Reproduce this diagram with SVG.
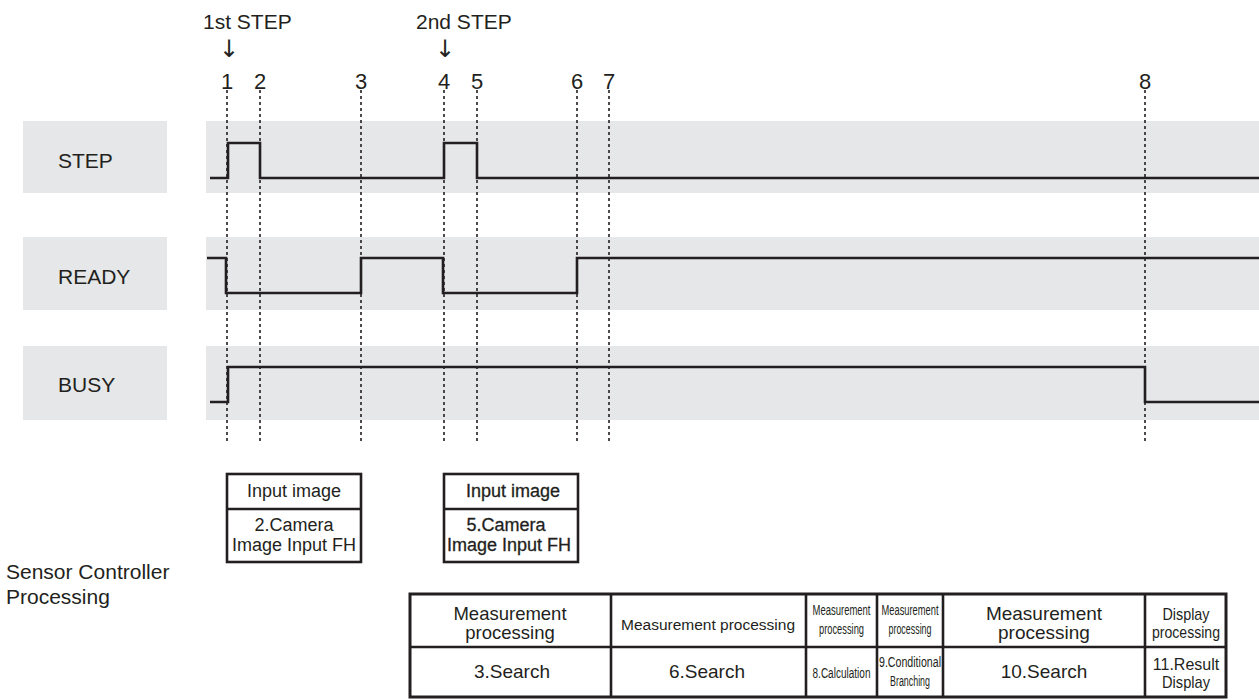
<svg xmlns="http://www.w3.org/2000/svg" width="1259" height="700" viewBox="0 0 1259 700">
<style>
text{font-family:"Liberation Sans",Arial,sans-serif;fill:#231f20}
.band{fill:#e6e7e8}
.sig{fill:none;stroke:#231f20;stroke-width:2.6;stroke-linejoin:miter}
.dash{stroke:#231f20;stroke-width:1.6;stroke-dasharray:3 3}
.box{fill:#fff;stroke:#231f20;stroke-width:2.6}
.ln{stroke:#231f20;stroke-width:2.6}
.lbl{font-size:21px}
.arr{font-family:"DejaVu Sans",sans-serif;font-size:24px;text-anchor:middle}
.num{font-size:22px;text-anchor:middle}
.bx{font-size:18px;text-anchor:middle}
.tc{text-anchor:middle}
.sm{text-anchor:middle;font-size:14.5px}
.dp{text-anchor:middle;font-size:16px}
.bold{stroke:#231f20;stroke-width:0.3}
</style>
<rect width="1259" height="700" fill="#fff"/>
<g id="bands">
<rect class="band" x="23" y="121" width="144" height="72"/>
<rect class="band" x="206" y="121" width="1053" height="72"/>
<rect class="band" x="23" y="237" width="144" height="73"/>
<rect class="band" x="206" y="237" width="1053" height="73"/>
<rect class="band" x="23" y="346" width="144" height="74"/>
<rect class="band" x="206" y="346" width="1053" height="74"/>
</g>
<g id="labels">
<text class="lbl" x="58" y="168">STEP</text>
<text class="lbl" x="58" y="284">READY</text>
<text class="lbl" x="58" y="392">BUSY</text>
<text class="lbl" x="203" y="29">1st STEP</text>
<text class="lbl" x="416" y="29">2nd STEP</text>
<text class="arr" x="229" y="57">↓</text>
<text class="arr" x="445" y="57">↓</text>
<text class="num" x="227" y="89">1</text>
<text class="num" x="260" y="89">2</text>
<text class="num" x="361" y="89">3</text>
<text class="num" x="444" y="89">4</text>
<text class="num" x="477" y="89">5</text>
<text class="num" x="577" y="89">6</text>
<text class="num" x="609" y="89">7</text>
<text class="num" x="1145" y="89">8</text>
<text class="lbl" x="6" y="579">Sensor Controller</text>
<text class="lbl" x="6" y="604">Processing</text>
</g>
<g id="connectors">
<line class="dash" x1="227" y1="90" x2="227" y2="442"/>
<line class="dash" x1="260" y1="90" x2="260" y2="442"/>
<line class="dash" x1="361" y1="90" x2="361" y2="442"/>
<line class="dash" x1="444" y1="90" x2="444" y2="442"/>
<line class="dash" x1="477" y1="90" x2="477" y2="442"/>
<line class="dash" x1="577" y1="90" x2="577" y2="442"/>
<line class="dash" x1="609" y1="90" x2="609" y2="442"/>
<line class="dash" x1="1145" y1="90" x2="1145" y2="442"/>
</g>
<g id="signals">
<polyline id="sig-step" class="sig" points="210,178 228,178 228,143 260,143 260,178 444,178 444,143 477,143 477,178 1259,178"/>
<polyline id="sig-ready" class="sig" points="207,258 226,258 226,293 361,293 361,258 443,258 443,293 577,293 577,258 1259,258"/>
<polyline id="sig-busy" class="sig" points="210,402 228,402 228,367 1145,367 1145,402 1259,402"/>
</g>
<g id="box1">
<rect class="box" x="227" y="474" width="134" height="88"/>
<line class="ln" x1="227" y1="509" x2="361" y2="509"/>
<text class="bx" x="294" y="497">Input image</text>
<text class="bx" x="294" y="531">2.Camera</text>
<text class="bx" x="294" y="551">Image Input FH</text>
</g>
<g id="box2">
<rect class="box" x="444" y="474" width="134" height="88"/>
<line class="ln" x1="444" y1="509" x2="578" y2="509"/>
<text class="bx bold" x="513" y="497">Input image</text>
<text class="bx bold" x="506" y="531">5.Camera</text>
<text class="bx bold" x="509" y="551" font-size="17">Image Input FH</text>
</g>
<g id="table">
<rect x="410" y="594" width="816" height="103" fill="#fff" stroke="#231f20" stroke-width="3"/>
<line class="ln" x1="410" y1="647" x2="1226" y2="647"/>
<line class="ln" x1="611" y1="594" x2="611" y2="697"/>
<line class="ln" x1="806" y1="594" x2="806" y2="697"/>
<line class="ln" x1="877" y1="594" x2="877" y2="697"/>
<line class="ln" x1="943" y1="594" x2="943" y2="697"/>
<line class="ln" x1="1145" y1="594" x2="1145" y2="697"/>
<g id="cell-1">
<text class="tc" x="510" y="620" font-size="18.5">Measurement</text>
<text class="tc" x="510" y="639" font-size="18.5">processing</text>
<text class="tc" x="512" y="678" font-size="19">3.Search</text>
</g>
<g id="cell-2">
<text class="tc" x="708" y="630" font-size="15.5">Measurement processing</text>
<text class="tc" x="707" y="678" font-size="19">6.Search</text>
</g>
<g id="cell-3">
<text class="sm" transform="translate(841.5,615) scale(0.655,1)">Measurement</text>
<text class="sm" transform="translate(841.5,634) scale(0.642,1)">processing</text>
<text class="sm" transform="translate(841.5,678) scale(0.692,1)">8.Calculation</text>
</g>
<g id="cell-4">
<text class="sm" transform="translate(910,615) scale(0.643,1)">Measurement</text>
<text class="sm" transform="translate(910,634) scale(0.613,1)">processing</text>
<text class="sm" transform="translate(910,667) scale(0.733,1)">9.Conditional</text>
<text class="sm" transform="translate(910,686) scale(0.613,1)">Branching</text>
</g>
<g id="cell-5">
<text class="tc" x="1044" y="620" font-size="19">Measurement</text>
<text class="tc" x="1044" y="639" font-size="19">processing</text>
<text class="tc" x="1044" y="678" font-size="19">10.Search</text>
</g>
<g id="cell-6">
<text class="dp" transform="translate(1186,620) scale(0.897,1)">Display</text>
<text class="dp" transform="translate(1186,638) scale(0.879,1)">processing</text>
<text class="dp" x="1186" y="670">11.Result</text>
<text class="dp" transform="translate(1186,688) scale(0.916,1)">Display</text>
</g>
</g>
</svg>
